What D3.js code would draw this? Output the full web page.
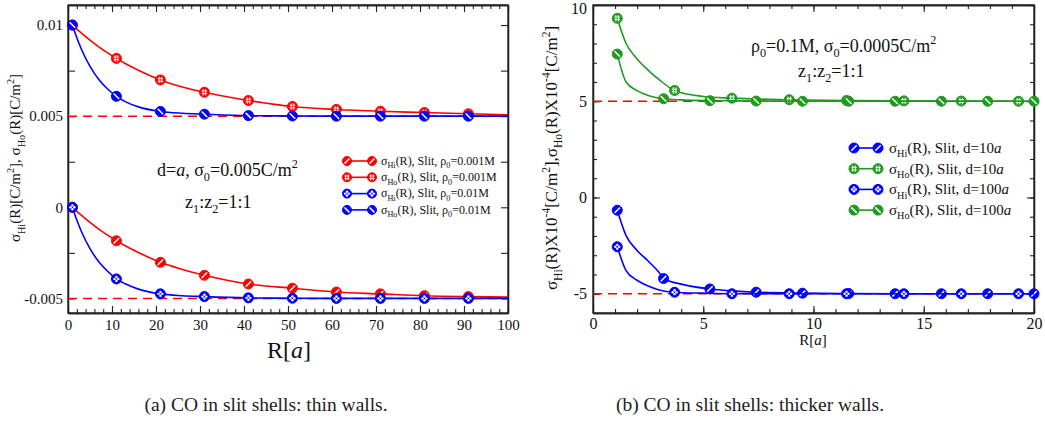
<!DOCTYPE html>
<html>
<head>
<meta charset="utf-8">
<script src="https://cdn.jsdelivr.net/npm/d3@7"></script>
<style>
  body { margin: 0; background: #fff; }
  svg { font-family: "Liberation Serif", "Times New Roman", serif; }
  .axis path { stroke: #222; stroke-width: 1.3; }
  .axis line { stroke: #222; stroke-width: 1.1; }
  .axis text { font-family: "Liberation Serif", serif; fill: #111; }
</style>
</head>
<body>
<svg width="1045" height="423"></svg>
<script>
// ---- panel (a): thin walls ----
var xTicksA = [0, 10, 20, 30, 40, 50, 60, 70, 80, 90, 100];
var yTicksA = [-0.005, 0, 0.005, 0.01];
var yTickLabelsA = ["-0.005", "0", "0.005", "0.01"];
var xMarkA = [1, 11, 21, 31, 41, 51, 61, 71, 81, 91];
var xLineA = [1, 2, 3, 5, 7, 9, 11, 13, 16, 21, 26, 31, 41, 51, 61, 71, 81, 91, 100];
var redHiA = [0, -0.00022, -0.00043, -0.00083, -0.0012, -0.00153, -0.00184, -0.00211, -0.00248, -0.00302, -0.00341, -0.00373, -0.00421, -0.00444, -0.00465, -0.00475, -0.00485, -0.0049, -0.00493];
var redHoA = [0.01, 0.00978, 0.00957, 0.00917, 0.0088, 0.00847, 0.00817, 0.00789, 0.00752, 0.00699, 0.0066, 0.00631, 0.00586, 0.00553, 0.00537, 0.00527, 0.0052, 0.00513, 0.00508];
var blueHiA = [0, -0.0007, -0.0013, -0.00227, -0.00299, -0.00351, -0.00393, -0.0042, -0.00449, -0.00475, -0.00485, -0.0049, -0.00497, -0.00499, -0.005, -0.005, -0.005, -0.005, -0.005];
var blueHoA = [0.01, 0.0093, 0.0087, 0.00773, 0.00701, 0.00649, 0.00609, 0.0058, 0.00551, 0.00526, 0.00516, 0.00511, 0.00503, 0.00501, 0.005, 0.005, 0.005, 0.005, 0.005];
var refLinesA = [0.005, -0.005];

// ---- panel (b): thicker walls ----
var xTicksB = [0, 5, 10, 15, 20];
var yTicksB = [-5, 0, 5, 10];
var xMark21 = [1.1, 3.2, 5.3, 7.4, 9.5, 11.6, 13.7, 15.8, 17.9, 20];
var xMark26 = [1.1, 3.7, 6.3, 8.9, 11.5, 14.1, 16.7, 19.3];
var xLine21 = [1.1, 1.5, 2, 2.5, 3, 3.2, 4, 5.3, 6.3, 7.4, 9.5, 11.6, 13.7, 15.8, 17.9, 20];
var xLine26 = [1.1, 1.5, 2, 2.5, 3, 3.7, 5, 6.3, 8.9, 11.5, 14.1, 16.7, 19.3, 20];
var blueHi10 = [-0.66, -1.98, -2.75, -3.3, -3.9, -4.21, -4.5, -4.75, -4.85, -4.92, -4.97, -4.99, -5, -5, -5, -5];
var greenHo10 = [9.31, 8.0, 7.2, 6.62, 6.12, 5.56, 5.25, 5.16, 5.08, 5.04, 5.02, 5.01, 5.0, 5.0];
var blueHi100 = [-2.56, -3.8, -4.3, -4.6, -4.8, -4.92, -4.97, -5.0, -5, -5, -5, -5, -5, -5];
var greenHo100 = [7.45, 6.0, 5.55, 5.3, 5.16, 5.13, 5.07, 5.03, 5.02, 5.01, 5.0, 5.0, 5.0, 5.0, 5.0, 5.0];
var refLinesB = [5, -5];

var red = "#ff0000", blue = "#0000ff", green = "#1e9b1e";

var svg = d3.select("svg");

// text with sub/superscripts: parts = [[text, "sub"|"sup"|"i"|undefined], ...]
function rich(t, parts, size) {
  var shift = 0;
  parts.forEach(function(p) {
    var want = p[1] === "sub" ? size * 0.3 : p[1] === "sup" ? -size * 0.42 : 0;
    var ts = t.append("tspan").text(p[0])
      .attr("dy", want - shift)
      .attr("font-size", (p[1] === "sub" || p[1] === "sup") ? size * 0.68 : size);
    if (p[1] === "i") ts.attr("font-style", "italic");
    shift = want;
  });
  return t;
}

function marker(g, kind, color, r) {
  g.append("circle").attr("r", r).attr("fill", color)
    .attr("stroke", color).attr("stroke-width", 1);
  var k = r * 0.55;
  var w = g.append("g").attr("stroke", "#fff").attr("fill", "#fff").attr("stroke-width", 1.5);
  if (kind === "slash") {
    w.append("line").attr("x1", -k).attr("y1", k).attr("x2", k).attr("y2", -k);
  } else if (kind === "back") {
    w.append("line").attr("x1", -k).attr("y1", -k).attr("x2", k).attr("y2", k);
  } else if (kind === "hash") {
    w.attr("stroke-width", 0.9);
    [-1.3, 1.3].forEach(function(o) {
      w.append("line").attr("x1", o).attr("y1", -k - 0.5).attr("x2", o).attr("y2", k + 0.5);
      w.append("line").attr("x1", -k).attr("y1", o).attr("x2", k).attr("y2", o);
    });
  } else if (kind === "checker") {
    w.attr("stroke", "none");
    [[-1.9, 0], [1.9, 0], [0, -1.9], [0, 1.9]].forEach(function(o) {
      w.append("circle").attr("cx", o[0]).attr("cy", o[1]).attr("r", 1.2);
    });
  }
}

function drawPanel(p) {
  var x = d3.scaleLinear().domain(p.xDomain).range([p.left, p.right]);
  var y = d3.scaleLinear().domain(p.yDomain).range([p.bottom, p.top]);
  var g = svg.append("g");

  // minor ticks (inward, all four sides)
  g.append("g").attr("class", "axis").attr("transform", "translate(0," + p.bottom + ")")
    .call(d3.axisBottom(x).tickValues(p.xMinor).tickSizeInner(-p.minorLen).tickSizeOuter(0).tickFormat(""));
  g.append("g").attr("class", "axis").attr("transform", "translate(0," + p.top + ")")
    .call(d3.axisTop(x).tickValues(p.xMinor).tickSizeInner(-p.minorLen).tickSizeOuter(0).tickFormat(""));
  g.append("g").attr("class", "axis").attr("transform", "translate(" + p.left + ",0)")
    .call(d3.axisLeft(y).tickValues(p.yMinor).tickSizeInner(-p.yMinorLen).tickSizeOuter(0).tickFormat(""));
  g.append("g").attr("class", "axis").attr("transform", "translate(" + p.right + ",0)")
    .call(d3.axisRight(y).tickValues(p.yMinor).tickSizeInner(-p.yMinorLen).tickSizeOuter(0).tickFormat(""));

  // major ticks with labels
  var bx = g.append("g").attr("class", "axis").attr("transform", "translate(0," + p.bottom + ")")
    .call(d3.axisBottom(x).tickValues(p.xTicks).tickSizeInner(-7).tickSizeOuter(0).tickPadding(p.tickPadX).tickFormat(d3.format("d")));
  bx.selectAll("text").attr("font-size", p.tickFont);
  g.append("g").attr("class", "axis").attr("transform", "translate(0," + p.top + ")")
    .call(d3.axisTop(x).tickValues(p.xTicks).tickSizeInner(-7).tickSizeOuter(0).tickFormat(""));
  var ly = g.append("g").attr("class", "axis").attr("transform", "translate(" + p.left + ",0)")
    .call(d3.axisLeft(y).tickValues(p.yTicks).tickSizeInner(-7).tickSizeOuter(0).tickPadding(p.tickPadY)
      .tickFormat(function(d, i) { return p.yTickLabels[i]; }));
  ly.selectAll("text").attr("font-size", p.tickFont);
  // keep the top label inside the page
  ly.selectAll(".tick").filter(function(d) { return y(d) < 12; }).select("text").attr("dy", "0.5em");
  g.append("g").attr("class", "axis").attr("transform", "translate(" + p.right + ",0)")
    .call(d3.axisRight(y).tickValues(p.yTicks).tickSizeInner(-7).tickSizeOuter(0).tickFormat(""));

  // frame
  g.append("rect").attr("x", p.left).attr("y", p.top)
    .attr("width", p.right - p.left).attr("height", p.bottom - p.top)
    .attr("fill", "none").attr("stroke", "#222").attr("stroke-width", 1.3);

  // dashed reference lines
  p.refLines.forEach(function(v) {
    g.append("line").attr("x1", x(p.xDomain[0])).attr("x2", x(p.xDomain[1]))
      .attr("y1", y(v)).attr("y2", y(v))
      .attr("stroke", red).attr("stroke-width", 1.5).attr("stroke-dasharray", "9,6");
  });

  var line = d3.line().x(function(d) { return x(d[0]); }).y(function(d) { return y(d[1]); })
    .curve(d3.curveMonotoneX);

  p.series.forEach(function(s) {
    var pts = s.x.map(function(v, i) { return [v, s.y[i]]; });
    g.append("path").datum(pts).attr("d", line)
      .attr("fill", "none").attr("stroke", s.color).attr("stroke-width", 1.6);
    pts.filter(function(d) { return s.mx.indexOf(d[0]) >= 0; }).forEach(function(d) {
      marker(g.append("g").attr("transform", "translate(" + x(d[0]) + "," + y(d[1]) + ")"), s.kind, s.color, 5);
    });
  });

  // legend
  p.series.forEach(function(s, i) {
    var ly0 = p.legend.y + i * p.legend.dy;
    g.append("line").attr("x1", p.legend.x1).attr("x2", p.legend.x2).attr("y1", ly0).attr("y2", ly0)
      .attr("stroke", s.color).attr("stroke-width", 1.6);
    marker(g.append("g").attr("transform", "translate(" + p.legend.x1 + "," + ly0 + ")"), s.kind, s.color, p.legend.r);
    marker(g.append("g").attr("transform", "translate(" + p.legend.x2 + "," + ly0 + ")"), s.kind, s.color, p.legend.r);
    rich(g.append("text").attr("x", p.legend.tx).attr("y", ly0 + p.legend.size * 0.32).attr("fill", "#111"),
      s.label, p.legend.size);
  });

  return { x: x, y: y, g: g };
}

// ---- draw panel (a) ----
var a = drawPanel({
  left: 68, right: 508, top: 5, bottom: 313,
  xDomain: [0, 100], yDomain: [-0.0058, 0.0111],
  xTicks: xTicksA, xMinor: d3.range(0, 101, 2), minorLen: 4,
  yTicks: yTicksA, yTickLabels: yTickLabelsA, yMinor: [-0.0025, 0.0025, 0.0075], yMinorLen: 7,
  tickFont: 15, tickPadX: 6, tickPadY: 5,
  refLines: refLinesA,
  series: [
    { x: xLineA, y: redHiA, mx: xMarkA, color: red, kind: "slash",
      label: [["σ"], ["Hi", "sub"], ["(R), Slit, ρ"], ["0", "sub"], ["=0.001M"]] },
    { x: xLineA, y: redHoA, mx: xMarkA, color: red, kind: "hash",
      label: [["σ"], ["Ho", "sub"], ["(R), Slit, ρ"], ["0", "sub"], ["=0.001M"]] },
    { x: xLineA, y: blueHiA, mx: xMarkA, color: blue, kind: "checker",
      label: [["σ"], ["Hi", "sub"], ["(R), Slit, ρ"], ["0", "sub"], ["=0.01M"]] },
    { x: xLineA, y: blueHoA, mx: xMarkA, color: blue, kind: "back",
      label: [["σ"], ["Ho", "sub"], ["(R), Slit, ρ"], ["0", "sub"], ["=0.01M"]] }
  ],
  legend: { x1: 347, x2: 372, tx: 381, y: 161, dy: 16.3, r: 4.5, size: 12 }
});

rich(svg.append("text").attr("x", 157).attr("y", 176).attr("fill", "#111"),
  [["d="], ["a", "i"], [", σ"], ["0", "sub"], ["=0.005C/m"], ["2", "sup"]], 18);
rich(svg.append("text").attr("x", 185).attr("y", 208).attr("fill", "#111"),
  [["z"], ["1", "sub"], [":z"], ["2", "sub"], ["=1:1"]], 18);
rich(svg.append("text").attr("text-anchor", "middle").attr("fill", "#111")
  .attr("transform", "translate(20,158) rotate(-90)"),
  [["σ"], ["Hi", "sub"], ["(R)[C/m"], ["2", "sup"], ["], σ"], ["Ho", "sub"], ["(R)[C/m"], ["2", "sup"], ["]"]], 15);
rich(svg.append("text").attr("x", 289).attr("y", 358).attr("text-anchor", "middle").attr("fill", "#111"),
  [["R["], ["a", "i"], ["]"]], 24);

// ---- draw panel (b) ----
var b = drawPanel({
  left: 593, right: 1034, top: 5, bottom: 313,
  xDomain: [0, 20], yDomain: [-6, 10],
  xTicks: xTicksB, xMinor: d3.range(0, 21, 1), minorLen: 4,
  yTicks: yTicksB, yTickLabels: ["-5", "0", "5", "10"], yMinor: d3.range(-6, 11, 1), yMinorLen: 4,
  tickFont: 16, tickPadX: 5, tickPadY: 6,
  refLines: refLinesB,
  series: [
    { x: xLine21, y: blueHi10, mx: xMark21, color: blue, kind: "slash",
      label: [["σ"], ["Hi", "sub"], ["(R), Slit, d=10"], ["a", "i"]] },
    { x: xLine26, y: greenHo10, mx: xMark26, color: green, kind: "hash",
      label: [["σ"], ["Ho", "sub"], ["(R), Slit, d=10"], ["a", "i"]] },
    { x: xLine26, y: blueHi100, mx: xMark26, color: blue, kind: "checker",
      label: [["σ"], ["Hi", "sub"], ["(R), Slit, d=100"], ["a", "i"]] },
    { x: xLine21, y: greenHo100, mx: xMark21, color: green, kind: "back",
      label: [["σ"], ["Ho", "sub"], ["(R), Slit, d=100"], ["a", "i"]] }
  ],
  legend: { x1: 854, x2: 878, tx: 889, y: 148, dy: 20.7, r: 5, size: 15 }
});

rich(svg.append("text").attr("x", 751).attr("y", 52).attr("fill", "#111"),
  [["ρ"], ["0", "sub"], ["=0.1M, σ"], ["0", "sub"], ["=0.0005C/m"], ["2", "sup"]], 18);
rich(svg.append("text").attr("x", 798).attr("y", 77).attr("fill", "#111"),
  [["z"], ["1", "sub"], [":z"], ["2", "sub"], ["=1:1"]], 18);
rich(svg.append("text").attr("text-anchor", "middle").attr("fill", "#111")
  .attr("transform", "translate(557,158) rotate(-90)"),
  [["σ"], ["Hi", "sub"], ["(R)X10"], ["-4", "sup"], ["[C/m"], ["2", "sup"], ["],σ"], ["Ho", "sub"], ["(R)X10"], ["-4", "sup"], ["[C/m"], ["2", "sup"], ["]"]], 17);
rich(svg.append("text").attr("x", 813).attr("y", 345).attr("text-anchor", "middle").attr("fill", "#111"),
  [["R["], ["a", "i"], ["]"]], 15);

// captions
svg.append("text").attr("x", 266).attr("y", 411).attr("text-anchor", "middle")
  .attr("font-size", 19.5).attr("fill", "#222").text("(a) CO in slit shells: thin walls.");
svg.append("text").attr("x", 750).attr("y", 411).attr("text-anchor", "middle")
  .attr("font-size", 19.5).attr("fill", "#222").text("(b) CO in slit shells: thicker walls.");
</script>
</body>
</html>
